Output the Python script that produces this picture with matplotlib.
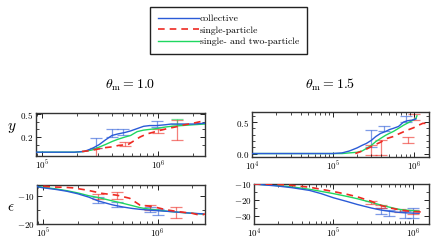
import matplotlib
matplotlib.use("Agg")
import matplotlib.pyplot as plt
from matplotlib.ticker import AutoMinorLocator, FixedLocator
from matplotlib.lines import Line2D

plt.rcParams['font.family'] = ['cmr10', 'DejaVu Serif']
plt.rcParams['mathtext.fontset'] = 'cm'
plt.rcParams['axes.formatter.use_mathtext'] = True
plt.rcParams['axes.unicode_minus'] = True

# ---------------- data ----------------
labels = ["collective", "single-particle", "single- and two-particle"]
titles = [r"$\theta_{\rm m} = 1.0$", r"$\theta_{\rm m} = 1.5$"]

# theta = 1.0, y
tl_blue_x = [8.8e4, 1.9e5, 2.3e5, 2.7e5, 3.1e5, 3.5e5, 4e5, 4.5e5, 5.2e5, 5.8e5, 6.6e5, 7.5e5, 8.5e5, 9.7e5, 1.15e6, 1.3e6, 1.6e6, 2e6, 2.55e6]
tl_blue_y = [0, 0, 0.01, 0.05, 0.10, 0.16, 0.22, 0.24, 0.26, 0.28, 0.31, 0.34, 0.35, 0.35, 0.36, 0.37, 0.37, 0.37, 0.38]
tl_green_x = [8.8e4, 1.9e5, 2.3e5, 2.7e5, 3.1e5, 3.5e5, 4e5, 4.5e5, 5.2e5, 5.8e5, 6.6e5, 7.5e5, 8.5e5, 9.7e5, 1.15e6, 1.3e6, 1.6e6, 2e6, 2.55e6]
tl_green_y = [0, 0, 0.01, 0.03, 0.067, 0.10, 0.14, 0.17, 0.20, 0.22, 0.27, 0.29, 0.30, 0.31, 0.33, 0.34, 0.35, 0.36, 0.37]
tl_red_x = [2.2e5, 2.6e5, 3e5, 3.5e5, 4e5, 4.6e5, 5.5e5, 6.2e5, 7e5, 8e5, 9e5, 1e6, 1.2e6, 1.4e6, 1.7e6, 2e6, 2.3e6, 2.55e6]
tl_red_y = [0.01, 0.02, 0.04, 0.06, 0.07, 0.09, 0.10, 0.15, 0.20, 0.24, 0.26, 0.28, 0.31, 0.33, 0.36, 0.38, 0.40, 0.42]
tl_blue_ex = [2.9e5, 4e5, 5e5, 9.8e5]
tl_blue_ey = [0.12, 0.25, 0.27, 0.37]
tl_blue_ee = [0.07, 0.05, 0.04, 0.04]
tl_red_ex = [2.9e5, 5.2e5, 1e6, 1.45e6]
tl_red_ey = [0.0, 0.11, 0.28, 0.29]
tl_red_ee = [0.06, 0.025, 0.03, 0.13]
tl_green_ex = [1.45e6]
tl_green_ey = [0.40]
tl_green_ee = [0.03]

# theta = 1.0, epsilon
bl_blue_x = [8.8e4, 9e4, 1e5, 1.3e5, 1.6e5, 2e5, 2.5e5, 3e5, 4e5, 5e5, 6e5, 7e5, 8e5, 1e6, 1.3e6, 1.6e6, 2e6, 2.5e6]
bl_blue_y = [-6.6, -6.9, -7.2, -7.8, -8.4, -9.3, -10.5, -11.8, -13.2, -14.0, -14.5, -14.8, -15.0, -15.3, -15.6, -15.9, -16.2, -16.4]
bl_green_x = [8.8e4, 9e4, 1e5, 1.3e5, 1.6e5, 2e5, 2.5e5, 3e5, 4e5, 5e5, 6e5, 7e5, 8e5, 1e6, 1.3e6, 1.6e6, 2e6, 2.5e6]
bl_green_y = [-6.2, -6.7, -7.0, -7.6, -8.2, -9.0, -10.0, -10.6, -11.8, -12.7, -13.5, -14.2, -14.6, -15.1, -15.6, -15.9, -16.2, -16.5]
bl_red_x = [1e5, 1.2e5, 1.5e5, 1.8e5, 2.4e5, 3.3e5, 4.4e5, 5.7e5, 7e5, 9e5, 1.2e6, 1.5e6, 2e6, 2.3e6, 2.5e6, 2.6e6]
bl_red_y = [-6.6, -6.9, -7.0, -7.2, -8.0, -9.2, -9.8, -10.9, -13.3, -13.8, -15.0, -15.6, -16.2, -16.8, -16.7, -16.4]
bl_blue_ex = [3e5, 4.4e5, 8.5e5, 1e6]
bl_blue_ey = [-11.5, -13.0, -14.8, -15.7]
bl_blue_ee = [1.2, 0.9, 0.8, 1.0]
bl_red_ex = [3e5, 4.4e5, 8.5e5, 1.45e6]
bl_red_ey = [-10.2, -9.8, -14.2, -15.9]
bl_red_ee = [0.8, 1.2, 1.0, 1.9]

# theta = 1.5, y
tr_blue_x = [1e4, 1e5, 1.3e5, 1.6e5, 2e5, 2.3e5, 2.6e5, 3e5, 3.4e5, 3.9e5, 4.5e5, 5e5, 5.6e5, 6.5e5, 7.5e5, 8.3e5, 9.5e5, 1.07e6]
tr_blue_y = [0, 0, 0.01, 0.04, 0.09, 0.13, 0.16, 0.21, 0.27, 0.32, 0.35, 0.38, 0.40, 0.43, 0.50, 0.52, 0.53, 0.55]
tr_green_x = [1e4, 1.3e5, 1.6e5, 2e5, 2.3e5, 2.6e5, 3e5, 3.4e5, 3.9e5, 4.5e5, 5e5, 5.6e5, 6.5e5, 7.5e5, 8.3e5, 9.5e5, 1.07e6, 1.1e6]
tr_green_y = [0, 0, 0.01, 0.02, 0.04, 0.08, 0.13, 0.19, 0.24, 0.29, 0.32, 0.35, 0.40, 0.45, 0.48, 0.52, 0.56, 0.60]
tr_red_x = [1.9e5, 2.2e5, 2.6e5, 3.2e5, 3.9e5, 4.7e5, 5.6e5, 6.5e5, 8.3e5, 1e6, 1.15e6, 1.3e6, 1.4e6]
tr_red_y = [0.0, 0.03, 0.07, 0.13, 0.18, 0.24, 0.27, 0.31, 0.37, 0.41, 0.45, 0.48, 0.48]
tr_blue_ex = [3e5, 4.3e5, 8e5]
tr_blue_ey = [0.24, 0.40, 0.55]
tr_blue_ee = [0.13, 0.04, 0.05]
tr_red_ex = [3e5, 4e5, 8.5e5, 1e6]
tr_red_ey = [0.05, 0.10, 0.22, 0.58]
tr_red_ee = [0.08, 0.12, 0.05, 0.05]

# theta = 1.5, epsilon
br_blue_x = [1e4, 2e4, 3e4, 5e4, 7e4, 1e5, 1.5e5, 2e5, 3e5, 4e5, 5e5, 6e5, 7e5, 8e5, 1e6, 1.2e6]
br_blue_y = [-10, -11.3, -12.3, -14.0, -16.0, -18.6, -21.0, -22.8, -25.0, -26.3, -27.0, -27.5, -27.8, -28.0, -28.2, -28.3]
br_green_x = [1e4, 2e4, 3e4, 5e4, 7e4, 1e5, 1.5e5, 2e5, 3e5, 4e5, 5e5, 6e5, 7e5, 8e5, 1e6, 1.2e6]
br_green_y = [-10, -11.0, -11.8, -13.3, -14.6, -16.0, -17.8, -19.2, -21.5, -23.2, -24.4, -25.3, -26.0, -26.3, -26.6, -27.0]
br_red_x = [1e4, 2e4, 3e4, 5e4, 7e4, 1e5, 1.5e5, 2e5, 3e5, 4e5, 5e5, 6e5, 7e5, 8e5, 1e6, 1.3e6]
br_red_y = [-10, -10.2, -10.9, -12.0, -13.3, -14.7, -16.5, -18.0, -20.8, -23.5, -24.8, -25.6, -26.2, -26.7, -27.2, -27.5]
br_blue_ex = [4e5, 5e5, 8e5, 1e6]
br_blue_ey = [-27.0, -28.0, -29.0, -28.0]
br_blue_ee = [2.0, 1.8, 2.0, 3.0]
br_red_ex = [3e5, 4e5, 7e5, 1e6]
br_red_ey = [-21.5, -24.0, -26.5, -27.5]
br_red_ee = [1.0, 1.0, 1.0, 1.5]

BLUE = '#2a5bd7'
RED = '#ee2a22'
GREEN = '#1ed760'

fig = plt.figure(figsize=(4.36, 2.47), dpi=100)

def px_axes(l, t, r, b):
    W, H = 436.0, 247.0
    return fig.add_axes([l / W, 1 - b / H, (r - l) / W, (b - t) / H])

ax_tl = px_axes(36, 113, 205, 156)
ax_bl = px_axes(37, 185, 205, 224)
ax_tr = px_axes(252, 112, 429, 157)
ax_br = px_axes(254, 184, 429, 224)

panels = [
    (ax_tl, tl_blue_x, tl_blue_y, tl_green_x, tl_green_y, tl_red_x, tl_red_y,
     [(tl_blue_ex, tl_blue_ey, tl_blue_ee, BLUE), (tl_red_ex, tl_red_ey, tl_red_ee, RED), (tl_green_ex, tl_green_ey, tl_green_ee, GREEN)],
     (8.8e4, 2.55e6), (-0.05, 0.515)),
    (ax_bl, bl_blue_x, bl_blue_y, bl_green_x, bl_green_y, bl_red_x, bl_red_y,
     [(bl_blue_ex, bl_blue_ey, bl_blue_ee, BLUE), (bl_red_ex, bl_red_ey, bl_red_ee, RED)],
     (8.8e4, 2.6e6), (-20, -6.2)),
    (ax_tr, tr_blue_x, tr_blue_y, tr_green_x, tr_green_y, tr_red_x, tr_red_y,
     [(tr_blue_ex, tr_blue_ey, tr_blue_ee, BLUE), (tr_red_ex, tr_red_ey, tr_red_ee, RED)],
     (1e4, 1.55e6), (-0.055, 0.66)),
    (ax_br, br_blue_x, br_blue_y, br_green_x, br_green_y, br_red_x, br_red_y,
     [(br_blue_ex, br_blue_ey, br_blue_ee, BLUE), (br_red_ex, br_red_ey, br_red_ee, RED)],
     (1e4, 1.6e6), (-35, -10)),
]

for ax, bx, by, gx, gy, rx, ry, errs, xl, yl in panels:
    ax.set_xscale('log')
    for ex, ey, ee, c in errs:
        ax.errorbar(ex, ey, yerr=ee, fmt='none', ecolor=c, elinewidth=0.9,
                    capsize=4, capthick=0.9, alpha=0.6, zorder=1)
    ax.plot(bx, by, color=BLUE, lw=1.0, zorder=3)
    ax.plot(rx, ry, color=RED, lw=1.2, ls=(0, (4, 3)), zorder=4)
    ax.plot(gx, gy, color=GREEN, lw=1.0, zorder=2)
    ax.set_xlim(*xl)
    ax.set_ylim(*yl)
    ax.tick_params(which='both', direction='in', top=True, right=True,
                   labelsize=6.5, pad=2)
    ax.tick_params(which='major', length=3.5, width=0.6)
    ax.tick_params(which='minor', length=2, width=0.5)
    for s in ax.spines.values():
        s.set_linewidth(1.0)
        s.set_color('#333333')

ax_tl.yaxis.set_major_locator(FixedLocator([0.2, 0.5]))
ax_tl.yaxis.set_minor_locator(FixedLocator([0.1, 0.3, 0.4]))
ax_bl.yaxis.set_major_locator(FixedLocator([-10, -20]))
ax_bl.yaxis.set_minor_locator(FixedLocator([-15]))
ax_tr.yaxis.set_major_locator(FixedLocator([0, 0.5]))
ax_tr.yaxis.set_minor_locator(AutoMinorLocator(5))
ax_br.yaxis.set_major_locator(FixedLocator([-10, -20, -30]))
ax_br.yaxis.set_minor_locator(AutoMinorLocator(2))

fig.text(12 / 436, 1 - 128 / 247, r"$y$", fontsize=11, ha='center', va='center')
fig.text(11 / 436, 1 - 207 / 247, r"$\epsilon$", fontsize=11, ha='center', va='center')
fig.text(130 / 436, 1 - 85 / 247, titles[0], fontsize=10, ha='center', va='center')
fig.text(330 / 436, 1 - 85 / 247, titles[1], fontsize=10, ha='center', va='center')

handles = [Line2D([], [], color=BLUE, lw=1.0),
           Line2D([], [], color=RED, lw=1.2, ls=(0, (4, 3))),
           Line2D([], [], color=GREEN, lw=1.0)]
leg = fig.legend(handles, labels, loc='upper center',
                 bbox_to_anchor=(228.5 / 436, 1 - 4 / 247),
                 fontsize=7, handlelength=4.2, labelspacing=0.25,
                 handletextpad=0.1, borderpad=0.8, borderaxespad=0.3,
                 fancybox=False,
                 frameon=True, edgecolor='#222222', framealpha=1)
leg.get_frame().set_linewidth(1.0)

fig.savefig('out.png', dpi=100)
